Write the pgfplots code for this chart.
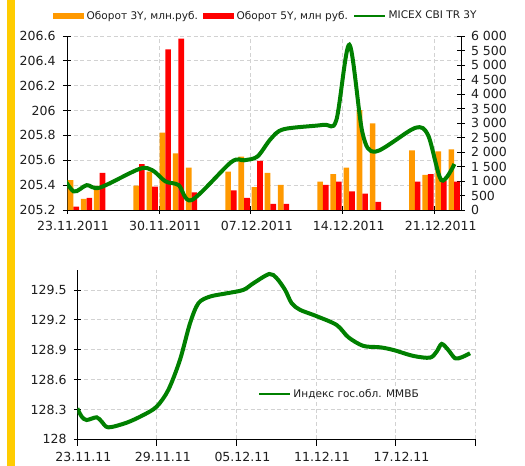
\documentclass[border=0pt]{standalone}
\usepackage{fontspec}
\setmainfont{DejaVu Sans}
\usepackage{pgfplots}
\usepackage{pgfplotstable}
\pgfplotsset{compat=1.18}
\definecolor{cyel}{RGB}{255,204,0}
\definecolor{c3y}{RGB}{255,153,0}
\definecolor{c5y}{RGB}{255,0,0}
\definecolor{cgreen}{RGB}{0,128,0}
\definecolor{cgrid}{RGB}{210,210,210}
\definecolor{ctxt}{RGB}{30,30,30}

% bars: day index from 23.11.2011
\pgfplotstableread{
day o3 r5
0 1030 115
1 380 414
2 830 1276
5 840 1586
6 1320 805
7 2667 5540
8 1954 5908
9 1460 609
12 1322 678
13 1839 414
14 793 1690
15 1276 207
16 862 207
19 977 862
20 1241 977
21 1460 644
22 3448 563
23 2989 276
26 2057 977
27 1207 1241
28 2023 1000
29 2092 977
}\turnover

% MICEX CBI TR 3Y (day centre, value)
\pgfplotstableread{
x y
-0.5 205.50
0.5 205.35
1.5 205.40
2.5 205.38
5.5 205.53
6.5 205.52
7.5 205.43
8.5 205.40
9.5 205.28
12.5 205.585
13.5 205.60
14.5 205.63
15.5 205.77
16.5 205.85
19.5 205.885
20.5 205.92
21.5 206.53
22.5 205.82
23.5 205.67
26.5 205.86
27.5 205.80
28.5 205.44
29.5 205.57
}\cbi

% MICEX government bond index
\pgfplotstableread{
x y
0 128.311
0.33 128.228
0.70 128.194
1.46 128.221
1.84 128.177
2.34 128.12
3.72 128.167
4.98 128.244
5.98 128.328
6.86 128.495
7.74 128.797
8.5 129.165
9.13 129.366
10.0 129.433
11.27 129.466
12.52 129.50
13.28 129.567
14.48 129.66
15.04 129.617
15.67 129.50
16.17 129.366
16.8 129.30
18.0 129.239
19.56 129.148
20.44 129.025
21.57 128.938
22.83 128.924
23.84 128.897
25.35 128.837
26.6 128.82
27.1 128.88
27.48 128.958
27.98 128.897
28.49 128.814
28.99 128.824
29.62 128.864
}\mmvb

\pgfplotsset{
  base/.style={
    scale only axis, anchor=south west,
    tick label style={font=\fontsize{9.4}{11}\selectfont, color=ctxt},
    axis line style={black, line width=0.6pt},
    major tick style={black, line width=0.6pt},
    major grid style={cgrid, line width=0.6pt, dash pattern=on 3pt off 2pt},
  },
}

\begin{document}
\begin{tikzpicture}
\path[use as bounding box] (0pt,0pt) rectangle (393.75pt,-349.5pt);
\fill[cyel] (5.25pt,0pt) rectangle (11.25pt,-349.5pt);

% ---------- top chart: grid and left axis
\begin{axis}[base,
  at={(50.25pt,-157.5pt)}, width=295.5pt, height=130.5pt,
  xmin=0, xmax=30, ymin=205.2, ymax=206.6,
  axis x line*=bottom, axis y line*=left,
  xtick={0,7,14,21,28},
  xticklabels={23.11.2011,30.11.2011,07.12.2011,14.12.2011,21.12.2011},
  ytick={205.2,205.4,205.6,205.8,206,206.2,206.4,206.6},
  yticklabels={205.2,205.4,205.6,205.8,206,206.2,206.4,206.6},
  grid=major, tick align=center, major tick length=6pt,
  xticklabel style={xshift=4.5pt, yshift=-2pt},
  yticklabel style={xshift=-2pt},
]
\addplot[draw=none, forget plot] coordinates {(0,205.2)};
\end{axis}

% ---------- top chart: bars, right axis
\begin{axis}[base,
  at={(50.25pt,-157.5pt)}, width=295.5pt, height=130.5pt,
  xmin=0, xmax=30, ymin=0, ymax=6000,
  axis x line=none, axis y line*=right,
  ytick={0,500,1000,1500,2000,2500,3000,3500,4000,4500,5000,5500,6000},
  yticklabels={0,500,1 000,1 500,2 000,2 500,3 000,3 500,4 000,4 500,5 000,5 500,6 000},
  tick align=center, major tick length=6pt,
  yticklabel style={anchor=west, xshift=1pt},
]
\addplot[ybar, bar width=0.43, bar shift=0pt, fill=c3y, draw=none]
  table[x expr=\thisrow{day}+0.27, y=o3] {\turnover};
\addplot[ybar, bar width=0.43, bar shift=0pt, fill=c5y, draw=none]
  table[x expr=\thisrow{day}+0.70, y=r5] {\turnover};
\end{axis}

% ---------- top chart: index line and legend
\begin{axis}[base,
  at={(50.25pt,-157.5pt)}, width=295.5pt, height=130.5pt,
  xmin=0, xmax=30, ymin=205.2, ymax=206.6,
  hide axis,
  legend style={at={(0.506,1.115)}, anchor=center, draw=none, fill=none,
    legend columns=3, font=\fontsize{7.9}{9}\selectfont, text=ctxt,
    inner sep=0pt, /tikz/every even column/.append style={column sep=2pt}},
]
\addlegendimage{legend image code/.code={\fill[c3y] (0pt,-1.9pt) rectangle (22.5pt,1.9pt);}}
\addlegendentry{Оборот 3Y, млн.руб.}
\addlegendimage{legend image code/.code={\fill[c5y] (0pt,-1.9pt) rectangle (22.5pt,1.9pt);}}
\addlegendentry{Оборот 5Y, млн руб.}
\addlegendimage{legend image code/.code={\draw[cgreen, line width=1.5pt] (0pt,0pt) -- (23pt,0pt);}}
\addlegendentry{MICEX CBI TR 3Y}
\addplot[cgreen, line width=3pt, smooth, forget plot] table {\cbi};
\end{axis}

% ---------- bottom chart
\begin{axis}[base,
  at={(58pt,-329.5pt)}, width=298.3pt, height=127pt,
  xmin=0, xmax=30, ymin=128, ymax=129.7,
  axis x line*=bottom, axis y line*=left,
  xtick={0,6,12,18,24,30},
  xticklabels={23.11.11,29.11.11,05.12.11,11.12.11,17.12.11,},
  ytick={128,128.3,128.6,128.9,129.2,129.5},
  yticklabels={128,128.3,128.6,128.9,129.2,129.5},
  grid=major, xtick align=outside, ytick align=center, major tick length=5pt,
  xticklabel style={xshift=4.5pt, yshift=-1pt},
  yticklabel style={xshift=-2pt},
  legend style={at={(0.454,0.268)}, anchor=west, draw=none, fill=none,
    font=\fontsize{7.9}{9}\selectfont, text=ctxt, inner sep=0pt},
]
\addlegendimage{legend image code/.code={\draw[cgreen, line width=1.5pt] (0pt,0pt) -- (23pt,0pt);}}
\addlegendentry{Индекс гос.обл. ММВБ}
\addplot[cgreen, line width=3pt, smooth, forget plot] table {\mmvb};
\end{axis}
\end{tikzpicture}
\end{document}
